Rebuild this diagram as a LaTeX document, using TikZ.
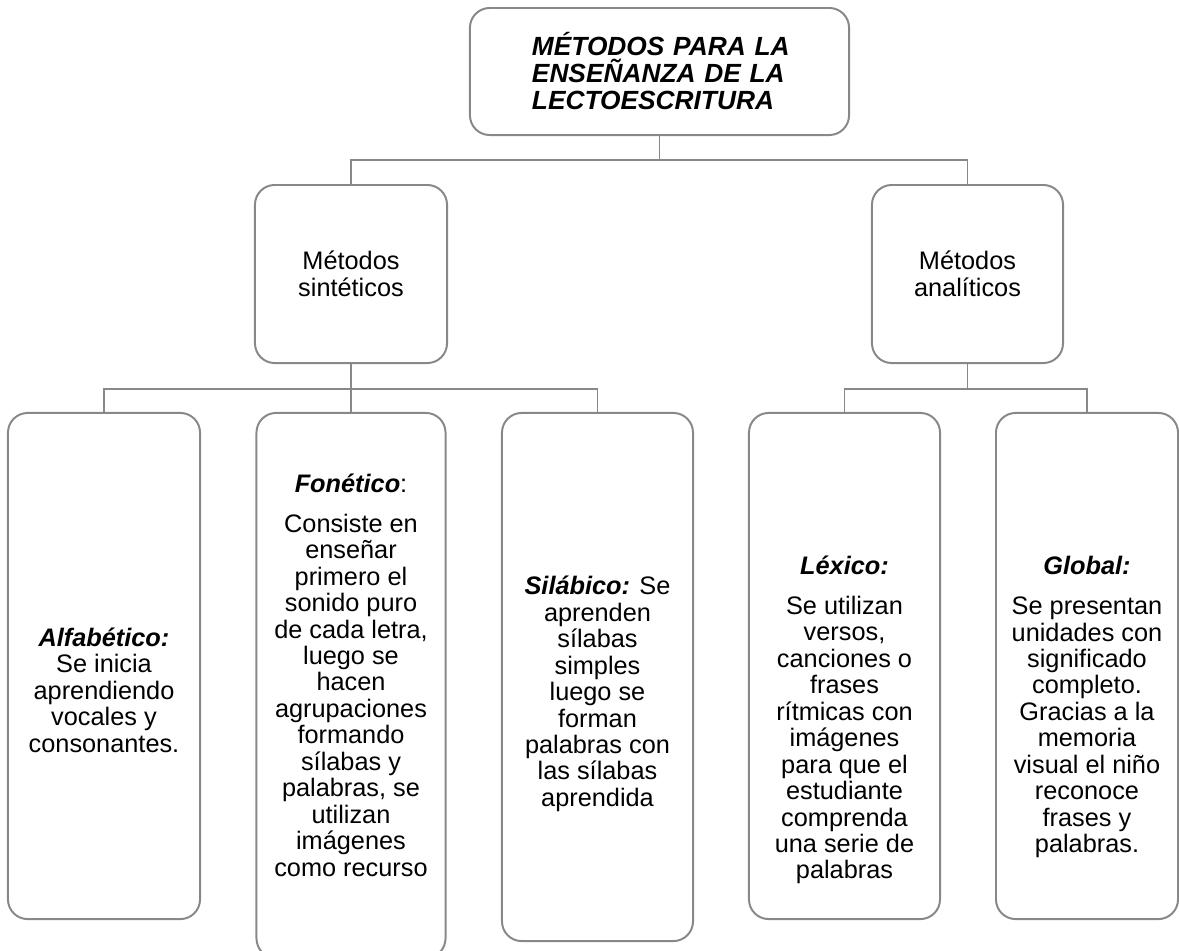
\documentclass[tikz,border=0pt]{standalone}
\usepackage{fontspec}
\setmainfont{Liberation Sans}
\usepackage{tikz}
\tikzset{every picture/.style={font issue=\fontsize{18}{18.8}},
         font issue/.style={execute at begin picture={#1\selectfont}}
        }
\usetikzlibrary{positioning}
\definecolor{boxgray}{RGB}{136,136,136}
\tikzstyle{box}=[draw=boxgray,line width=1.4pt,rounded corners=14pt,inner sep=0pt,align=center]
\tikzstyle{leaf}=[box,minimum width=4.8cm,minimum height=12.65cm]
\tikzstyle{leaftext}=[align=center,inner sep=0pt]
\tikzstyle{link}=[draw=boxgray,line width=1.4pt]
\newcommand{\bihead}[1]{\textbf{\textit{#1}}}

\begin{document}
\begin{tikzpicture}[x=0.025cm,y=-0.025cm]
	\useasboundingbox (0,0) rectangle (1179,950);

	\node[box,minimum width=9.475cm,minimum height=3.175cm] (top) at (659.5,71.5) {};
	\node[align=left,inner sep=0pt,text width=6.45cm,font=\fontsize{18.7}{19.2}\selectfont] (top-t) at (661,71)
	{\bihead{MÉTODOS PARA LA}\\ \makebox[\linewidth][s]{\bihead{ENSEÑANZA DE LA}}\\ \bihead{LECTOESCRITURA}};

	\node[box,minimum width=4.8cm,minimum height=4.45cm] (sin) at (351,274) {Métodos\\ sintéticos};
	\node[box,minimum width=4.775cm,minimum height=4.45cm] (ana) at (967.5,274) {Métodos\\ analíticos};

	\node[leaf] (alf) at (104,666) {};
	\node[leaf,minimum width=4.725cm,minimum height=13.625cm] (fon) at (351,685.5) {};
	\node[leaf,minimum width=4.775cm,minimum height=13.2cm] (sil) at (597.5,677) {};
	\node[leaf,minimum width=4.775cm] (lex) at (844.5,666) {};
	\node[leaf,minimum width=4.55cm] (glo) at (1087,666) {};

	\node[leaftext] (alf-t) at (104,690) {\bihead{Alfabético:}\\ Se inicia\\ aprendiendo\\ vocales y\\ consonantes.};
	\node[leaftext] (fon-t) at (351,675) {\bihead{Fonético}:\\[0.34cm] Consiste en\\ enseñar\\ primero el\\ sonido puro\\ de cada letra,\\ luego se\\ hacen\\ agrupaciones\\ formando\\ sílabas y\\ palabras, se\\ utilizan\\ imágenes\\ como recurso};
	\node[leaftext] (sil-t) at (597.5,694) {\bihead{Silábico:} Se\\ aprenden\\ sílabas\\ simples\\ luego se\\ forman\\ palabras con\\ las sílabas\\ aprendida};
	\node[leaftext] (lex-t) at (844.5,720) {\bihead{Léxico:}\\[0.34cm] Se utilizan\\ versos,\\ canciones o\\ frases\\ rítmicas con\\ imágenes\\ para que el\\ estudiante\\ comprenda\\ una serie de\\ palabras};
	\node[leaftext] (glo-t) at (1087,707) {\bihead{Global:}\\[0.34cm] Se presentan\\ unidades con\\ significado\\ completo.\\ Gracias a la\\ memoria\\ visual el niño\\ reconoce\\ frases y\\ palabras.};

	\coordinate (j1) at (659.5,160);
	\coordinate (j2) at (351,389);
	\coordinate (j3) at (967.5,389);

	\path[link] (top.south) -- (j1);
	\path[link] (sin.north) |- (j1) -| (ana.north);

	\path[link] (sin.south) -- (j2);
	\path[link] (alf.north) |- (j2) -| (sil.north);
	\path[link] (fon.north) -- (j2);

	\path[link] (ana.south) -- (j3);
	\path[link] (lex.north) |- (j3) -| (glo.north);
\end{tikzpicture}
\end{document}
